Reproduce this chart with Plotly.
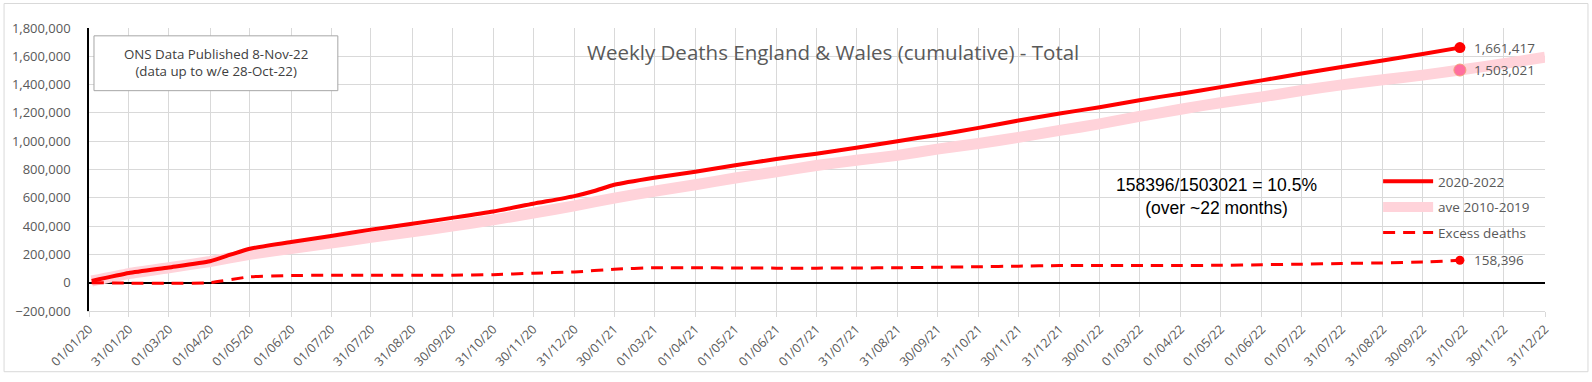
import plotly.graph_objects as go

# ---------------- data ----------------
red_dates = ["2020-01-03", "2020-01-31", "2020-03-01", "2020-04-01", "2020-04-17", "2020-05-01",
             "2020-06-01", "2020-07-01", "2020-07-31", "2020-08-31", "2020-09-30", "2020-10-31",
             "2020-11-30", "2020-12-31", "2021-01-15", "2021-01-30", "2021-03-01", "2021-04-01",
             "2021-05-01", "2021-06-01", "2021-07-01", "2021-07-31", "2021-08-31", "2021-09-30",
             "2021-10-31", "2021-11-30", "2021-12-31", "2022-01-30", "2022-03-01", "2022-04-01",
             "2022-05-01", "2022-06-01", "2022-07-01", "2022-07-31", "2022-08-31", "2022-09-30",
             "2022-10-28"]
deaths_2020_2022 = [12000, 68000, 108000, 152000, 200000, 240000,
                    288000, 330000, 375000, 416000, 458000, 503000,
                    558000, 612000, 648000, 692000, 742000, 784000,
                    830000, 874000, 912000, 953000, 1000000, 1044000,
                    1094000, 1146000, 1196000, 1240000, 1290000, 1336000,
                    1382000, 1430000, 1478000, 1525000, 1570000, 1616000,
                    1661417]

ave_dates = ["2020-01-03", "2020-01-31", "2020-03-01", "2020-04-01", "2020-05-01", "2020-06-01",
             "2020-07-01", "2020-07-31", "2020-08-31", "2020-09-30", "2020-10-31", "2020-11-30",
             "2020-12-31", "2021-01-30", "2021-03-01", "2021-04-01", "2021-05-01", "2021-06-01",
             "2021-07-01", "2021-07-31", "2021-08-31", "2021-09-30", "2021-10-31", "2021-11-30",
             "2021-12-31", "2022-01-30", "2022-03-01", "2022-04-01", "2022-05-01", "2022-06-01",
             "2022-07-01", "2022-07-31", "2022-08-31", "2022-09-30", "2022-10-28", "2022-11-30",
             "2022-12-31"]
ave_2010_2019 = [12000, 64000, 106000, 150000, 200000, 242000,
                 280000, 320000, 360000, 400000, 444000, 492000,
                 543000, 598000, 646000, 692000, 740000, 784000,
                 828000, 865000, 900000, 944000, 984000, 1027000,
                 1076000, 1122000, 1175000, 1226000, 1272000, 1313000,
                 1358000, 1398000, 1434000, 1467000, 1503021, 1548000,
                 1593000]

excess_dates = ["2020-01-03", "2020-01-31", "2020-03-01", "2020-04-01", "2020-05-01", "2020-06-01",
                "2020-07-01", "2020-07-31", "2020-08-31", "2020-09-30", "2020-10-31", "2020-11-30",
                "2020-12-31", "2021-01-30", "2021-03-01", "2021-04-01", "2021-05-01", "2021-06-01",
                "2021-07-01", "2021-07-31", "2021-08-31", "2021-09-30", "2021-10-31", "2021-11-30",
                "2021-12-31", "2022-01-30", "2022-03-01", "2022-04-01", "2022-05-01", "2022-06-01",
                "2022-07-01", "2022-07-31", "2022-08-31", "2022-09-30", "2022-10-28"]
excess_deaths = [0, -3000, -4000, 0, 42000, 51000,
                 52000, 52000, 52000, 53000, 57000, 67000,
                 76000, 95000, 106000, 106000, 104000, 103000,
                 103000, 104000, 106000, 109000, 113000, 117000,
                 121000, 122000, 122000, 122000, 123000, 127000,
                 131000, 136000, 140000, 146000, 158396]

tick_dates = ["2020-01-01", "2020-01-31", "2020-03-01", "2020-04-01", "2020-05-01", "2020-06-01",
              "2020-07-01", "2020-07-31", "2020-08-31", "2020-09-30", "2020-10-31", "2020-11-30",
              "2020-12-31", "2021-01-30", "2021-03-01", "2021-04-01", "2021-05-01", "2021-06-01",
              "2021-07-01", "2021-07-31", "2021-08-31", "2021-09-30", "2021-10-31", "2021-11-30",
              "2021-12-31", "2022-01-30", "2022-03-01", "2022-04-01", "2022-05-01", "2022-06-01",
              "2022-07-01", "2022-07-31", "2022-08-31", "2022-09-30", "2022-10-31", "2022-11-30",
              "2022-12-31"]
tick_labels = ["01/01/20", "31/01/20", "01/03/20", "01/04/20", "01/05/20", "01/06/20",
               "01/07/20", "31/07/20", "31/08/20", "30/09/20", "31/10/20", "30/11/20",
               "31/12/20", "30/01/21", "01/03/21", "01/04/21", "01/05/21", "01/06/21",
               "01/07/21", "31/07/21", "31/08/21", "30/09/21", "31/10/21", "30/11/21",
               "31/12/21", "30/01/22", "01/03/22", "01/04/22", "01/05/22", "01/06/22",
               "01/07/22", "31/07/22", "31/08/22", "30/09/22", "31/10/22", "30/11/22",
               "31/12/22"]

y_tickvals = [-200000, 0, 200000, 400000, 600000, 800000, 1000000, 1200000, 1400000, 1600000, 1800000]

# ---------------- styling ----------------
GREY_TXT = "#595959"
GRID = "#d9d9d9"
FONT = "Open Sans"
W, H = 1592, 382
ML, MR, MT, MB = 88, 47, 28, 65
PW, PH = W - ML - MR, H - MT - MB


def px_x(px):
    return (px - ML) / PW


def px_y(py):
    return (H - MB - py) / PH


fig = go.Figure()

fig.add_trace(go.Scatter(
    x=ave_dates, y=ave_2010_2019, name="ave 2010-2019", mode="lines", legendgroup="b",
    line=dict(color="#FFD3DA", width=11, shape="spline", smoothing=0.5),
    legendrank=2, hoverinfo="skip"))
fig.add_trace(go.Scatter(
    x=red_dates, y=deaths_2020_2022, name="2020-2022", mode="lines", legendgroup="a",
    line=dict(color="#FF0000", width=4, shape="spline", smoothing=0.5),
    legendrank=1, hoverinfo="skip"))
fig.add_trace(go.Scatter(
    x=excess_dates, y=excess_deaths, name="Excess deaths", mode="lines", legendgroup="c",
    line=dict(color="#FF0000", width=3, dash="12px,8px", shape="spline", smoothing=0.5),
    legendrank=3, hoverinfo="skip"))

# end markers with value labels
fig.add_trace(go.Scatter(
    x=[red_dates[-1]], y=[deaths_2020_2022[-1]], mode="markers", showlegend=False,
    marker=dict(color="#FF0000", size=11), hoverinfo="skip"))
fig.add_trace(go.Scatter(
    x=[ave_dates[-3]], y=[ave_2010_2019[-3]], mode="markers", showlegend=False,
    marker=dict(color="#FF6F9F", size=12, line=dict(color="#F4A27A", width=1)), hoverinfo="skip"))
fig.add_trace(go.Scatter(
    x=[excess_dates[-1]], y=[excess_deaths[-1]], mode="markers", showlegend=False,
    marker=dict(color="#FF0000", size=9), hoverinfo="skip"))

for xv, yv in [(red_dates[-1], deaths_2020_2022[-1]),
               (ave_dates[-3], ave_2010_2019[-3]),
               (excess_dates[-1], excess_deaths[-1])]:
    fig.add_annotation(x=xv, y=yv, text=f"{yv:,}", showarrow=False, xanchor="left",
                       xshift=12, font=dict(family=FONT, size=13.5, color=GREY_TXT))

# title
fig.add_annotation(x=px_x(833), y=px_y(52), xref="paper", yref="paper",
                   xanchor="center", yanchor="middle",
                   text="Weekly Deaths England &amp; Wales (cumulative) - Total",
                   showarrow=False, font=dict(family=FONT, size=20.5, color=GREY_TXT))

# info box
fig.add_shape(type="rect", xref="paper", yref="paper",
              x0=px_x(93), x1=px_x(337), y0=px_y(92), y1=px_y(36),
              line=dict(color="#A6A6A6", width=1), fillcolor="white", layer="above")
fig.add_annotation(x=px_x(215), y=px_y(63), xref="paper", yref="paper",
                   xanchor="center", yanchor="middle",
                   text="ONS Data Published 8-Nov-22<br>(data up to w/e 28-Oct-22)",
                   showarrow=False, font=dict(family=FONT, size=13.3, color="#404040"))

# ratio note
fig.add_annotation(x=px_x(1216), y=px_y(200), xref="paper", yref="paper",
                   xanchor="center", yanchor="middle",
                   text="158396/1503021 = 10.5%<br>(over ~22 months)",
                   showarrow=False, font=dict(family="Liberation Sans", size=17.5, color="black"))

# outer chart border
fig.add_shape(type="rect", xref="paper", yref="paper",
              x0=px_x(3), x1=px_x(1588), y0=px_y(379), y1=px_y(3),
              line=dict(color=GRID, width=1), layer="below")

fig.update_layout(
    width=W, height=H,
    margin=dict(l=ML, r=MR, t=MT, b=MB),
    paper_bgcolor="white", plot_bgcolor="white",
    font=dict(family=FONT, color=GREY_TXT),
    legend=dict(x=px_x(1378), y=px_y(169), xanchor="left", yanchor="top",
                bgcolor="rgba(0,0,0,0)", font=dict(family=FONT, size=13.5, color=GREY_TXT),
                itemwidth=50, tracegroupgap=5, traceorder="grouped"),
    showlegend=True,
)

fig.update_xaxes(
    type="date", range=["2020-01-01", "2022-12-31"],
    tickvals=tick_dates, ticktext=tick_labels, tickangle=-45,
    tickfont=dict(family=FONT, size=12.5, color=GREY_TXT),
    showgrid=True, gridcolor=GRID, gridwidth=1,
    showline=True, linecolor=GRID, linewidth=1,
    ticks="outside", ticklen=5, tickcolor=GRID,
    zeroline=False,
)
fig.update_yaxes(
    range=[-200000, 1800000], tickvals=y_tickvals, tickformat=",",
    tickfont=dict(family=FONT, size=13, color=GREY_TXT),
    showgrid=True, gridcolor=GRID, gridwidth=1,
    showline=True, linecolor="black", linewidth=1.5,
    zeroline=True, zerolinecolor="black", zerolinewidth=2,
    ticks="", ticklabelstandoff=14,
)

fig.write_html("out.html", config={"displayModeBar": False},
               post_script="document.body.style.margin='0';")
